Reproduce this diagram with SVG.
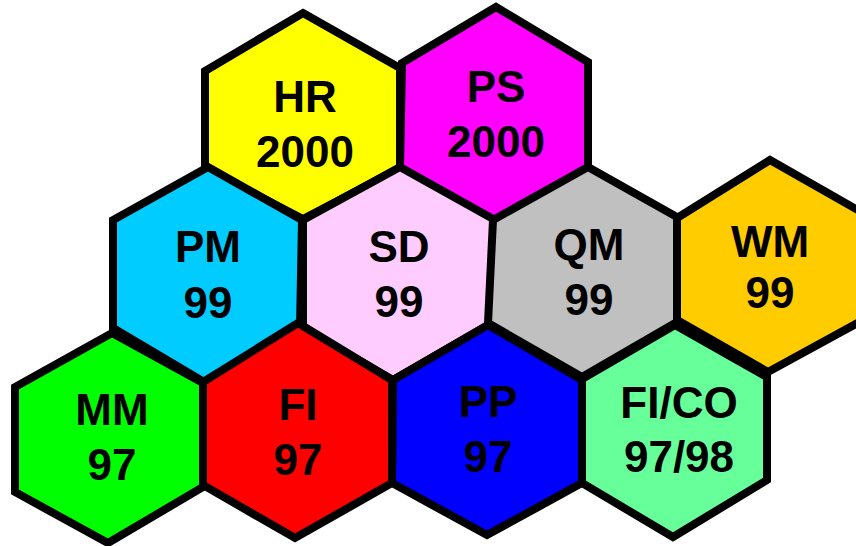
<svg xmlns="http://www.w3.org/2000/svg" width="856" height="546" viewBox="0 0 856 546">
<style>
.hex{stroke:#000;stroke-width:8;stroke-linejoin:miter}
.t{font-family:"Liberation Sans",Arial,sans-serif;font-weight:bold;font-size:44px;fill:#000;text-anchor:middle}
</style>
<rect width="856" height="546" fill="#fff"/>
<g id="HR">
<polygon class="hex" fill="#FFFF00" points="303,13 400,68 400,168 303,219 205,168 205,71"/>
<text class="t" x="305" y="112">HR</text>
<text class="t" x="305" y="167">2000</text>
</g>
<g id="PS">
<polygon class="hex" fill="#FF00FF" points="496,7 588,62 588,167 495,222 400,168 402,63"/>
<text class="t" x="496" y="102">PS</text>
<text class="t" x="496" y="157">2000</text>
</g>
<g id="PM">
<polygon class="hex" fill="#00CCFF" points="208,167 302,220 300,328 204,382 113,328 113,220"/>
<text class="t" x="208" y="262">PM</text>
<text class="t" x="208" y="318">99</text>
</g>
<g id="SD">
<polygon class="hex" fill="#FFCCFF" points="400,167 495,220 492,323 393,380 303,328 303,220"/>
<text class="t" x="399" y="262">SD</text>
<text class="t" x="399" y="317">99</text>
</g>
<g id="QM">
<polygon class="hex" fill="#C0C0C0" points="588,167 677,217 677,322 582,377 488,323 493,220"/>
<text class="t" x="589" y="260">QM</text>
<text class="t" x="589" y="315">99</text>
</g>
<g id="WM">
<polygon class="hex" fill="#FFCC00" points="770,160 863,213 863,320 768,372 677,320 677,218"/>
<text class="t" x="770" y="257">WM</text>
<text class="t" x="770" y="308">99</text>
</g>
<g id="MM">
<polygon class="hex" fill="#00FF00" points="112,333 203,383 203,487 108,543 15,492 15,387"/>
<text class="t" x="112" y="425">MM</text>
<text class="t" x="112" y="480">97</text>
</g>
<g id="FI">
<polygon class="hex" fill="#FF0000" points="298,323 392,380 392,483 295,538 203,485 203,382"/>
<text class="t" x="298" y="420">FI</text>
<text class="t" x="298" y="475">97</text>
</g>
<g id="PP">
<polygon class="hex" fill="#0000FF" points="488,325 582,380 582,483 487,535 392,483 393,380"/>
<text class="t" x="488" y="417">PP</text>
<text class="t" x="488" y="472">97</text>
</g>
<g id="FICO">
<polygon class="hex" fill="#66FF99" points="675,325 767,377 767,480 673,537 582,483 582,379"/>
<text class="t" x="679" y="418">FI/CO</text>
<text class="t" x="679" y="472">97/98</text>
</g>
</svg>
